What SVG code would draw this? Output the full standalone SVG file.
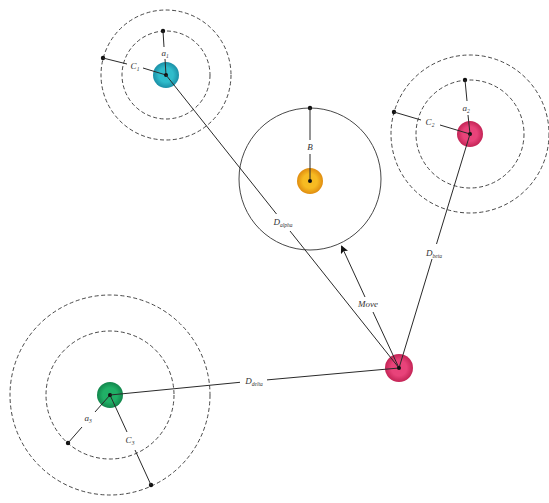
<svg xmlns="http://www.w3.org/2000/svg" width="549" height="503" viewBox="0 0 549 503">
<style>
.dash{fill:none;stroke:#333;stroke-width:0.9;stroke-dasharray:4 2.5}
.ring{fill:none;stroke:#333;stroke-width:0.9}
.ln{stroke:#2a2a2a;stroke-width:1;fill:none}
.dot{fill:#111}
.cdot{fill:#111}
.lbl{font-family:"Liberation Serif",serif;font-style:italic;font-size:9px;fill:#333;text-anchor:middle}
.sub{font-size:5.5px}
</style>
<defs>
<radialGradient id="gc"><stop offset="0.55" stop-color="#2fbccb"/><stop offset="1" stop-color="#1a8fa6"/></radialGradient>
<radialGradient id="gp"><stop offset="0.55" stop-color="#e8437a"/><stop offset="1" stop-color="#c42456"/></radialGradient>
<radialGradient id="gy"><stop offset="0.55" stop-color="#f7bb22"/><stop offset="1" stop-color="#e08d10"/></radialGradient>
<radialGradient id="gg"><stop offset="0.55" stop-color="#20b066"/><stop offset="1" stop-color="#12864c"/></radialGradient>
<marker id="ah" viewBox="0 0 10 10" refX="9" refY="5" markerWidth="8" markerHeight="8" orient="auto" markerUnits="userSpaceOnUse"><path d="M0,0 L10,5 L0,10 L2,5 z" fill="#111"/></marker>
</defs>
<rect width="549" height="503" fill="#fff"/>

<g id="node-alpha1">
<circle class="dash" cx="166" cy="75" r="44"/>
<circle class="dash" cx="166" cy="75" r="65"/>
<circle cx="166" cy="75" r="13" fill="url(#gc)"/>
<circle class="dot" cx="163" cy="31" r="2.2"/>
<circle class="dot" cx="103" cy="58" r="2.2"/>
<path class="ln" d="M163,31 L164,47 M165,59 L166,75"/>
<path class="ln" d="M103,58 L127,64 M143,68 L166,75"/>
<text class="lbl" x="165" y="56">a<tspan class="sub" dy="1.5">1</tspan></text>
<text class="lbl" x="135" y="69">C<tspan class="sub" dy="1.5">1</tspan></text>
<circle class="cdot" cx="166" cy="75" r="2"/>
</g>

<g id="node-alpha2">
<circle class="dash" cx="470" cy="134" r="54"/>
<circle class="dash" cx="470" cy="134" r="79"/>
<circle cx="470" cy="134" r="13" fill="url(#gp)"/>
<circle class="dot" cx="465" cy="80" r="2.2"/>
<circle class="dot" cx="394" cy="112" r="2.2"/>
<path class="ln" d="M465,80 L467,101 M468,115 L470,134"/>
<path class="ln" d="M394,112 L421,120 M440,125 L470,134"/>
<text class="lbl" x="466" y="111">a<tspan class="sub" dy="1.5">2</tspan></text>
<text class="lbl" x="430" y="125">C<tspan class="sub" dy="1.5">2</tspan></text>
<circle class="cdot" cx="470" cy="134" r="2"/>
</g>

<g id="node-beta">
<circle class="ring" cx="310" cy="179" r="71"/>
<circle cx="310" cy="181" r="13" fill="url(#gy)"/>
<circle class="dot" cx="310" cy="108" r="2.2"/>
<path class="ln" d="M310,108 L310,140 M310,154 L310,181"/>
<text class="lbl" x="310" y="150">B</text>
<circle class="cdot" cx="310" cy="181" r="2"/>
</g>

<g id="node-alpha3">
<circle class="dash" cx="110" cy="395" r="64"/>
<circle class="dash" cx="110" cy="395" r="100"/>
<circle cx="110" cy="395" r="13" fill="url(#gg)"/>
<circle class="dot" cx="68" cy="443" r="2.2"/>
<circle class="dot" cx="151" cy="485" r="2.2"/>
<path class="ln" d="M68,443 L82,427 M95,412 L110,395"/>
<path class="ln" d="M151,485 L135,450 M127,432 L110,395"/>
<text class="lbl" x="88" y="421">a<tspan class="sub" dy="1.5">3</tspan></text>
<text class="lbl" x="130" y="443">C<tspan class="sub" dy="1.5">3</tspan></text>
<circle class="cdot" cx="110" cy="395" r="2"/>
</g>

<g id="node-agent">
<circle cx="399" cy="368" r="14" fill="url(#gp)"/>
</g>

<g id="connectors">
<path class="ln" d="M166,75 L276.5,214 M290,231 L399,368"/>
<text class="lbl" x="283" y="225">D<tspan class="sub" dy="1.5">alpha</tspan></text>
<path class="ln" d="M470,134 L436.5,244 M432,259 L399,368"/>
<text class="lbl" x="434" y="256">D<tspan class="sub" dy="1.5">beta</tspan></text>
<path class="ln" d="M110,395 L240,382.3 M267,379.9 L399,368"/>
<text class="lbl" x="254" y="384">D<tspan class="sub" dy="1.5">delta</tspan></text>
<path class="ln" d="M399,368 L373,312"/>
<path class="ln" d="M365,297 L341.5,246" marker-end="url(#ah)"/>
<text class="lbl" x="368" y="307">Move</text>
<circle class="cdot" cx="399" cy="368" r="2"/>
</g>
</svg>
